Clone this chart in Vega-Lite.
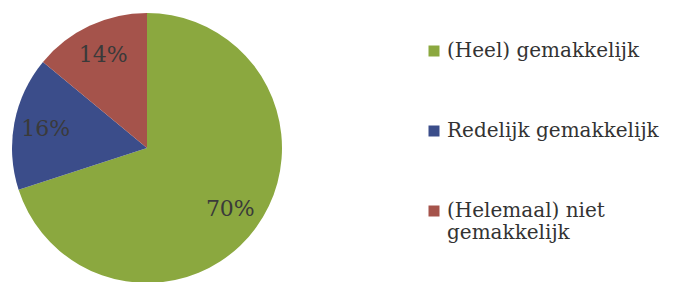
{
  "$schema": "https://vega.github.io/schema/vega-lite/v6.json",
  "width": 294,
  "height": 296,
  "autosize": "none",
  "padding": {"left": 0, "top": 0, "right": 387, "bottom": 0},
  "background": "white",
  "data": {"values": [
    {"cat": "(Heel) gemakkelijk", "value": 70, "label": "70%", "ord": 1},
    {"cat": "Redelijk gemakkelijk", "value": 16, "label": "16%", "ord": 2},
    {"cat": "(Helemaal) niet gemakkelijk", "value": 14, "label": "14%", "ord": 3}
  ]},
  "encoding": {
    "theta": {"field": "value", "type": "quantitative", "stack": true},
    "order": {"field": "ord", "type": "quantitative"},
    "color": {
      "field": "cat", "type": "nominal",
      "sort": ["(Heel) gemakkelijk", "Redelijk gemakkelijk", "(Helemaal) niet gemakkelijk"],
      "scale": {"domain": ["(Heel) gemakkelijk", "Redelijk gemakkelijk", "(Helemaal) niet gemakkelijk"], "range": ["#8BA83F", "#3B4D8A", "#A5534B"]},
      "legend": {
        "orient": "none", "legendX": 424, "legendY": 41,
        "title": null, "symbolType": "square", "symbolSize": 121,
        "symbolStrokeWidth": 0, "symbolOpacity": 1,
        "labelFont": "DejaVu Serif", "labelFontSize": 20, "labelColor": "#333333",
        "labelOffset": 3, "labelLimit": 400, "rowPadding": 60,
        "labelExpr": "datum.label == '(Helemaal) niet gemakkelijk' ? ['(Helemaal) niet', 'gemakkelijk'] : datum.label",
        "labelBaseline": "middle", "labelLineHeight": 29
      }
    }
  },
  "layer": [
    {"mark": {"type": "arc", "outerRadius": 135, "stroke": null}},
    {"mark": {"type": "text", "radius": 103, "font": "DejaVu Serif", "fontSize": 22, "fill": "#3a3a3a"},
     "encoding": {"text": {"field": "label"}, "color": {"value": "#3a3a3a"}}}
  ]
}
